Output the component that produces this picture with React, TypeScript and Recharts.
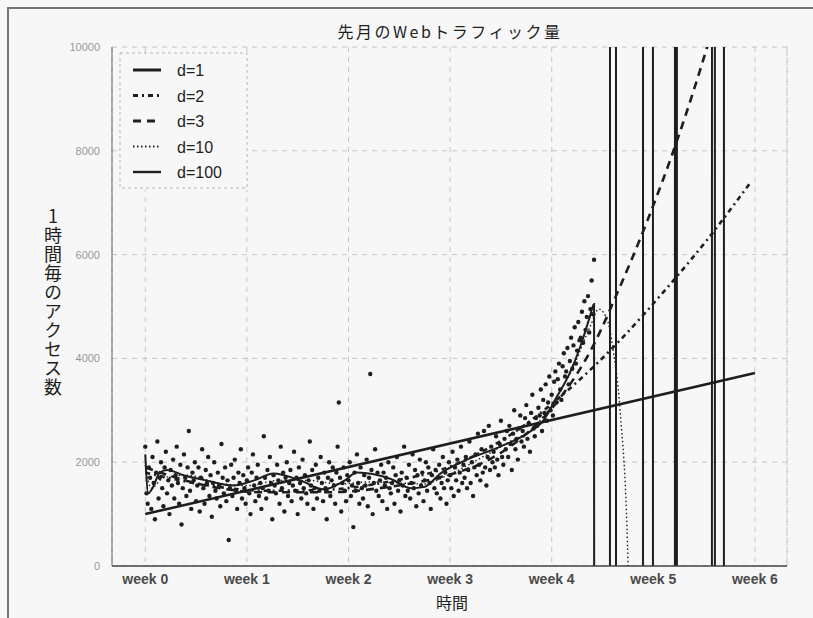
import React from "react";
import { ComposedChart, Scatter, Line, XAxis, YAxis, CartesianGrid, ReferenceLine } from "recharts";

const weekTicks = [0, 168, 336, 504, 672, 840, 1008];
const weekLabels = ["week 0", "week 1", "week 2", "week 3", "week 4", "week 5", "week 6"];
const yTicks = [0, 2000, 4000, 6000, 8000, 10000];

// hits per hour, one reading every 2 hours (one row = one day)
const hitsEvery2h = [
  2300, 1400, 1200, 1900, 1700, 1100, 2100, 1600, 900, 1800, 2400, 1300,
  1700, 2000, 1500, 1150, 1900, 2200, 1400, 1650, 1000, 1850, 1550, 2050,
  1300, 1750, 2300, 1600, 1200, 1950, 800, 1500, 2150, 1700, 1350, 1900,
  2600, 1450, 1100, 1800, 1650, 2000, 1250, 1550, 1900, 1050, 1700, 2250,
  1500, 1200, 1850, 1600, 2100, 1350, 1750, 950, 1600, 2000, 1450, 1300,
  1800, 1550, 1150, 2350, 1700, 1400, 1900, 1250, 1650, 500, 1500, 1950,
  1350, 1700, 2050, 1450, 1100, 1800, 1600, 2250, 1300, 1750, 1500, 1200,
  1650, 1900, 1400, 1000, 1800, 2150, 1550, 1250, 1700, 1950, 1350, 1600,
  1100, 1500, 2500, 1700, 1300, 1850, 1450, 2100, 1600, 900, 1750, 1550,
  1400, 1950, 1650, 1200, 2300, 1500, 1800, 1050, 1700, 2000, 1350, 1600,
  1850, 1250, 1550, 2200, 1450, 1700, 1000, 1900, 1600, 1300, 2050, 1500,
  1750, 1400, 1200, 1650, 2400, 1550, 1850, 1100, 1500, 1950, 1300, 1700,
  1450, 2100, 1600, 1250, 1800, 1500, 900, 1700, 2000, 1350, 1650, 1900,
  1550, 1200, 1800, 2300, 3150, 1700, 1050, 1600, 1900, 1450, 1250, 1750,
  1650, 2000, 1350, 1550, 750, 1800, 1450, 2150, 1600, 1200, 1900, 1500,
  1300, 1750, 1550, 2050, 1150, 1700, 3700, 1850, 1000, 1600, 2250, 1450,
  1800, 1350, 1650, 1950, 1250, 1800, 1550, 1700, 1100, 2000, 1500, 1400,
  1600, 1900, 1200, 1750, 2100, 1450, 1650, 1050, 1800, 1550, 2300, 1350,
  1700, 1450, 1950, 1300, 1600, 2150, 1500, 1850, 1150, 1750, 1400, 2050,
  1550, 1800, 1250, 1650, 2000, 1450, 1900, 1600, 1100, 1750, 2250, 1500,
  1850, 1400, 1700, 1950, 1300, 1600, 2100, 1500, 1800, 1200, 1650, 2000,
  1750, 1500, 2200, 1350, 1900, 1650, 2050, 1450, 1800, 2300, 1600, 1950,
  1700, 2100, 1500, 1850, 2400, 1600, 2000, 1350, 1900, 2150, 1750, 2550,
  1950, 1650, 2250, 1800, 2600, 1900, 1550, 2100, 2700, 1850, 2300, 2000,
  2200, 1900, 2500, 2050, 1750, 2350, 2800, 2100, 1950, 2450, 2250, 2600,
  2100, 2700, 2350, 1850, 2550, 3000, 2250, 2450, 2050, 2650, 2900, 2400,
  2600, 2300, 2850, 3100, 2450, 2750, 2200, 2950, 3300, 2650, 2500, 2850,
  2700, 3050, 2900, 3400, 2600, 3200, 2950, 3500, 2800, 3150, 3650, 3000,
  3300, 2900, 3550, 3750, 3150, 3600, 3900, 3400, 3200, 3850, 4100, 3650,
  3750, 4200, 3500, 3950, 4400, 3800, 4250, 4600, 3900, 4150, 4700, 4350,
  4400, 4900, 4300, 5100, 4550, 4800, 5200, 4500, 4950, 5500, 4850, 5900,
];

// polynomial fits (hours, hits)
const d1Hours = [0, 1008];
const d1Hits = [1000, 3720];

const d2Hours = [0, 100, 200, 300, 400, 500, 600, 700, 785, 862, 930, 1000];
const d2Hits = [1800, 1560, 1450, 1470, 1620, 1900, 2500, 3400, 4350, 5350, 6300, 7380];

const d3Hours = [0, 100, 200, 300, 400, 500, 560, 620, 680, 743, 780, 830, 879, 929, 980, 1008];
const d3Hits = [1900, 1550, 1420, 1420, 1520, 1750, 2000, 2450, 3150, 4300, 5250, 6650, 8190, 10000, 12100, 13300];

const d10Hours = [0, 10, 30, 70, 120, 170, 220, 270, 320, 370, 420, 460, 500, 550, 600, 640, 680, 710, 735, 750, 765, 773, 785, 798, 805, 820];
const d10Hits = [1950, 1500, 1700, 1750, 1600, 1550, 1650, 1650, 1580, 1620, 1600, 1580, 1750, 2050, 2380, 2650, 3250, 3900, 4600, 4950, 4700, 4200, 3000, 100, -5000, -60000];

const d100Hours = [
  0, 5, 12, 24, 36, 63, 100, 146, 180, 212, 256, 295, 330, 350, 405, 440, 460, 490, 532, 587, 631, 658, 680, 702, 719, 735, 742,
  744, 768, 768.6, 778, 778.6, 822.6, 823.2, 839.1, 839.7, 875.4, 876, 878.7, 879.3, 936.6, 937.2, 941.5, 942.1, 956.4, 957, 1008,
];
const d100Hits = [
  2150, 1400, 1500, 1800, 1850, 1750, 1650, 1550, 1650, 1780, 1650, 1480, 1650, 1800, 1680, 1500, 1520, 1800, 2050, 2300, 2550, 2800, 3250, 3720, 4220, 4800, 5050,
  -60000, -60000, 60000, 60000, -60000, -60000, 60000, 60000, -60000, -60000, 60000, 60000, -60000, -60000, 60000, 60000, -60000, -60000, 60000, 60000,
];

const toPoints = (hours: number[], hits: number[]) => hours.map((h, i) => ({ h, y: hits[i] }));

const scatterPoints = hitsEvery2h.map((y, i) => ({ h: i * 2, y }));

const fits = [
  { name: "d=1", points: toPoints(d1Hours, d1Hits), width: 2.6, dash: undefined },
  { name: "d=2", points: toPoints(d2Hours, d2Hits), width: 2.6, dash: "5 4 2 4" },
  { name: "d=3", points: toPoints(d3Hours, d3Hits), width: 2.6, dash: "8 6" },
  { name: "d=10", points: toPoints(d10Hours, d10Hits), width: 1.4, dash: "1.5 2.5" },
  { name: "d=100", points: toPoints(d100Hours, d100Hits), width: 2, dash: undefined },
];

const ink = "#1e1e1e";
const sans = "'Liberation Sans', Arial, sans-serif";
const jp = "'Noto Sans CJK JP', sans-serif";

function Dot(props: any) {
  return <circle cx={props.cx} cy={props.cy} r={2.2} fill={ink} />;
}

function FitLegend() {
  return (
    <svg
      width={130}
      height={138}
      style={{ position: "absolute", left: 119, top: 52, background: "#f7f7f7" }}
    >
      <rect x={1} y={1} width={127} height={135} fill="none" stroke="#b5b5b5" strokeDasharray="3 3" />
      {fits.map((f, i) => (
        <g key={f.name}>
          <line
            x1={14}
            x2={42}
            y1={18 + i * 25.5}
            y2={18 + i * 25.5}
            stroke={ink}
            strokeWidth={f.width + 0.4}
            strokeDasharray={f.dash}
          />
          <text x={58} y={24 + i * 25.5} fontSize={16} fontFamily={sans} fill={ink}>
            {f.name}
          </text>
        </g>
      ))}
    </svg>
  );
}

export default function App() {
  return (
    <div
      style={{
        position: "absolute",
        left: 0,
        top: 0,
        width: 813,
        height: 618,
        background: "#f7f7f7",
        overflow: "hidden",
      }}
    >
      <div style={{ position: "absolute", left: 8, top: 7, width: 805, height: 1.5, background: "#777" }} />
      <div style={{ position: "absolute", left: 7, top: 7, width: 1.5, height: 611, background: "#777" }} />

      <ComposedChart width={813} height={618} margin={{ top: 47, right: 26, bottom: 22, left: 0 }}>
        <CartesianGrid stroke="#c6c6c6" strokeDasharray="5 5" />
        <XAxis
          type="number"
          dataKey="h"
          domain={[-55, 1061]}
          ticks={weekTicks}
          tickFormatter={(v: number) => weekLabels[weekTicks.indexOf(v)]}
          allowDataOverflow
          height={30}
          tickLine={false}
          tickMargin={2}
          stroke="#444"
          strokeWidth={1.5}
          tick={{ fontSize: 14, fontWeight: "bold", fill: "#4a4a4a", fontFamily: sans }}
        />
        <YAxis
          type="number"
          dataKey="y"
          domain={[0, 10000]}
          ticks={yTicks}
          allowDataOverflow
          width={112}
          tickLine={false}
          tickMargin={6}
          stroke="#666"
          tick={{ fontSize: 11, fill: "#999", fontFamily: sans }}
        />
        <ReferenceLine x={1061} stroke="#c6c6c6" strokeDasharray="5 5" />
        <Scatter data={scatterPoints} dataKey="y" shape={Dot} isAnimationActive={false} />
        {fits.map((f) => (
          <Line
            key={f.name}
            data={f.points}
            dataKey="y"
            type="monotone"
            stroke={ink}
            strokeWidth={f.width}
            strokeDasharray={f.dash}
            dot={false}
            activeDot={false}
            isAnimationActive={false}
          />
        ))}
      </ComposedChart>

      <FitLegend />

      <div
        style={{
          position: "absolute",
          left: 0,
          width: 900,
          top: 19,
          textAlign: "center",
          fontFamily: jp,
          fontSize: 16,
          letterSpacing: 2.5,
          color: ink,
        }}
      >
        先月のWebトラフィック量
      </div>
      <div
        style={{
          position: "absolute",
          left: 40,
          top: 207,
          writingMode: "vertical-rl",
          textOrientation: "upright",
          fontFamily: jp,
          fontSize: 18,
          letterSpacing: 1,
          color: ink,
        }}
      >
        1時間毎のアクセス数
      </div>
      <div
        style={{
          position: "absolute",
          left: 402,
          width: 100,
          top: 590,
          textAlign: "center",
          fontFamily: jp,
          fontSize: 16,
          color: ink,
        }}
      >
        時間
      </div>
    </div>
  );
}
